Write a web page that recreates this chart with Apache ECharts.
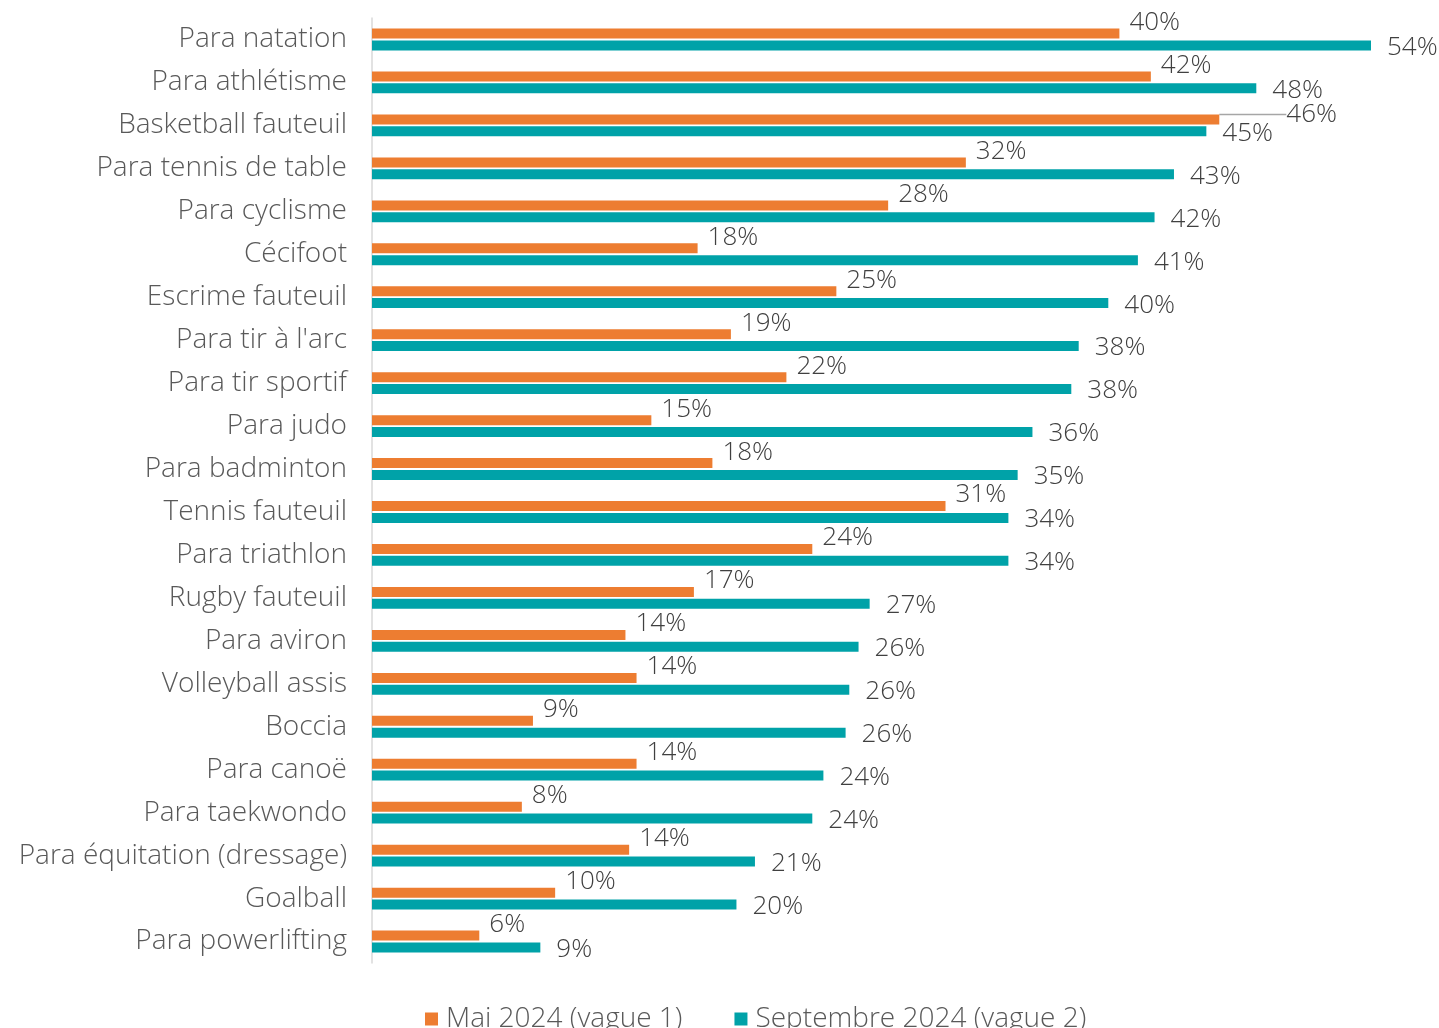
<!DOCTYPE html>
<html>
<head>
<meta charset="utf-8">
<script src="https://cdn.jsdelivr.net/npm/echarts@6/dist/echarts.min.js"></script>
<style>
html,body{margin:0;padding:0;background:#fff;}
#chart{width:1439px;height:1028px;}
</style>
</head>
<body>
<div id="chart"></div>
<script>
const categories = ["Para natation","Para athlétisme","Basketball fauteuil","Para tennis de table","Para cyclisme","Cécifoot","Escrime fauteuil","Para tir à l'arc","Para tir sportif","Para judo","Para badminton","Tennis fauteuil","Para triathlon","Rugby fauteuil","Para aviron","Volleyball assis","Boccia","Para canoë","Para taekwondo","Para équitation (dressage)","Goalball","Para powerlifting"];
const seriesNames = ["Mai 2024 (vague 1)", "Septembre 2024 (vague 2)"];
const mai2024 = [40.4, 42.1, 45.8, 32.1, 27.9, 17.6, 25.1, 19.4, 22.4, 15.1, 18.4, 31.0, 23.8, 17.4, 13.7, 14.3, 8.7, 14.3, 8.1, 13.9, 9.9, 5.8];
const sept2024 = [54.0, 47.8, 45.1, 43.35, 42.3, 41.4, 39.8, 38.2, 37.8, 35.7, 34.9, 34.4, 34.4, 26.9, 26.3, 25.8, 25.6, 24.4, 23.8, 20.7, 19.7, 9.1];

const FONT = '"Open Sans", Lato, sans-serif';
const ORANGE = '#ED7D31', TEAL = '#00A2A8';
const leaderIndex = 2; // label moved out with a guide line

const chart = echarts.init(document.getElementById('chart'), null, {renderer:'canvas'});

const maiData = mai2024.map((v, i) => i === leaderIndex
  ? {value: v, labelLine: {show: true, lineStyle: {color: '#a6a6a6', width: 1.5}}}
  : v);

chart.setOption({
  animation: false,
  textStyle: {fontFamily: FONT},
  grid: {left: 372, right: 49.5, top: 18, bottom: 65, containLabel: false},
  legend: {
    data: seriesNames,
    top: 1000, left: 420,
    itemWidth: 13, itemHeight: 13, itemGap: 52,
    icon: 'rect',
    textStyle: {fontFamily: FONT, fontSize: 28, fontWeight: 300, color: '#595959', padding: [0,0,0,3]}
  },
  xAxis: {
    type: 'value', min: 0, max: 55,
    show: false,
    splitLine: {show: false}
  },
  yAxis: {
    type: 'category', data: categories, inverse: true,
    axisLine: {show: true, lineStyle: {color: '#d9d9d9', width: 1.5}},
    axisTick: {show: false},
    axisLabel: {margin: 25, fontSize: 28, fontWeight: 300, color: '#595959', fontFamily: FONT}
  },
  series: [
    {
      name: seriesNames[0], type: 'bar', data: maiData,
      barWidth: 10, barGap: '18%',
      itemStyle: {color: ORANGE},
      label: {show: true, position: 'right', fontSize: 26, fontWeight: 300, color: '#404040', fontFamily: FONT,
        formatter: p => Math.round(p.value) + '%'},
      labelLine: {show: false}
    },
    {
      name: seriesNames[1], type: 'bar', data: sept2024,
      barWidth: 10, barGap: '18%',
      itemStyle: {color: TEAL},
      label: {show: true, position: 'right', fontSize: 26, fontWeight: 300, color: '#404040', fontFamily: FONT,
        formatter: p => Math.round(p.value) + '%'}
    }
  ],
  labelLayout: function (p) {
    const r = p.rect;
    const end = r.x + r.width;
    const cy = r.y + r.height / 2;
    if (p.seriesIndex === 0) {
      if (p.dataIndex === leaderIndex) {
        return {x: end + 67, y: cy - 5, align: 'left', verticalAlign: 'middle',
          labelLinePoints: [[end, cy], [end + 49, cy - 8], [end + 59, cy - 8]]};
      }
      return {x: end + 10, y: cy - 11, align: 'left', verticalAlign: 'middle'};
    }
    return {x: end + 16, y: cy + 2, align: 'left', verticalAlign: 'middle'};
  }
});
</script>
</body>
</html>
